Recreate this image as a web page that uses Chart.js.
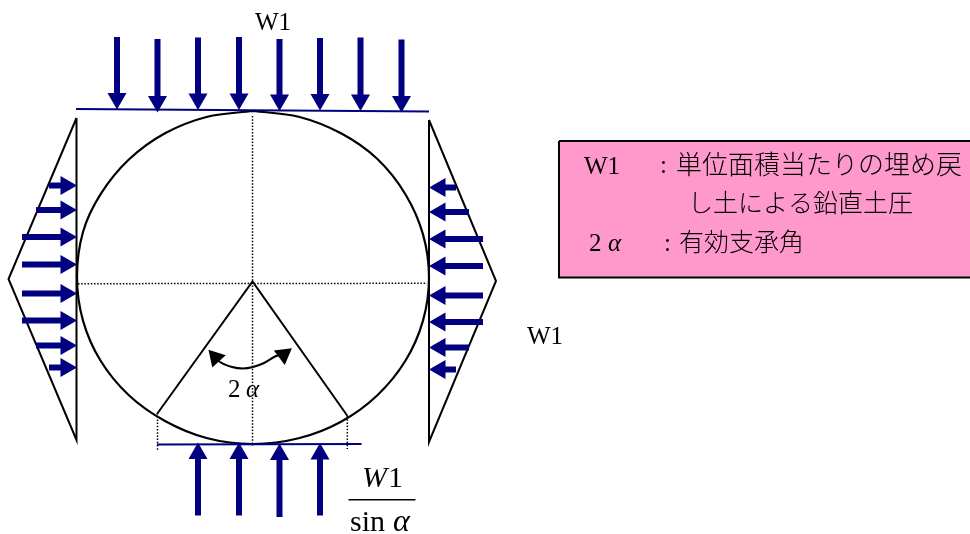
<!DOCTYPE html>
<html lang="ja">
<head>
    <meta charset="UTF-8">
    <title>W1</title>
    <script src="https://cdn.jsdelivr.net/npm/chart.js"></script>
    <style>
        html, body { margin: 0; padding: 0; background: #fff; }
        canvas { display: block; }
    </style>
</head>
<body>
    <canvas id="chart" width="970" height="534"></canvas>
    <script>
        // load arrows (x or y of each arrow, tail, tip)
        const downX = [117, 157.5, 198, 239, 279.5, 320, 360.5, 401.5];
        const downTail = [37, 39, 37.5, 37, 39, 38, 37.5, 39.5];
        const downTip = [109.5, 112.5, 110, 110, 111, 110.5, 111, 112.5];

        const upX = [198, 239, 279.5, 320];
        const upTail = [515.5, 515.5, 517, 515.5];
        const upTip = [442.5, 442.5, 443.5, 443];

        const rightY = [185.5, 210, 237, 264.5, 293.5, 320.5, 345.5, 367.5];
        const rightTail = [49, 36, 22, 22, 22, 22, 36, 49];
        const rightTip = [77, 77, 77, 77, 77, 77, 77, 77];

        const leftY = [187.5, 212, 239, 266, 295.5, 322, 347.5, 369.5];
        const leftTail = [456, 469, 483, 483, 483, 483, 469, 456];
        const leftTip = [429, 429, 429, 429, 429, 429, 429, 429];

        // outline of the pipe, read round from the top
        const pipeX = [253, 298.6, 341, 377.4, 405.4, 423, 429, 423, 405.4, 377.4, 341, 298.6, 253, 207.4, 165, 128.6, 100.6, 83, 77, 83, 100.6, 128.6, 165, 207.4, 253];
        const pipeY = [111, 116.7, 133.3, 159, 194.2, 234.4, 277.5, 320.6, 360.8, 395.2, 421.7, 438.3, 444, 438.3, 421, 395, 360.8, 320.6, 277, 232, 194.2, 159.8, 133.3, 116.7, 111];

        const triLeftX = [76.5, 8.5, 76.5, 76.5];
        const triLeftY = [118, 279, 440, 118];
        const triRightX = [429, 496, 429, 429];
        const triRightY = [120, 281, 442, 120];

        const fanX = [157, 252.5, 347.5];
        const fanY = [414, 281.5, 416];

        const swingX = [211, 220, 232, 243, 253, 264, 275, 286];
        const swingY = [353, 362, 367, 368.5, 367, 363, 356.5, 352];
        const swingHeadX = [215.5, 283.5];
        const swingHeadY = [357.5, 354.5];
        const swingHeadAngle = [-42, 53];

        const boxX = [559, 980, 980, 559, 559];
        const boxY = [141, 141, 277.5, 277.5, 141];

        const labelText = ['W1', 'W1', 'W1', ':', '単位面積当たりの埋め戻', 'し土による鉛直土圧', '2', 'α', ':', '有効支承角', '2', 'α', 'W', '1', 'sin', 'α'];
        const labelX = [255, 527, 584, 660, 676, 688, 589, 608, 664, 679, 228, 246, 362, 388, 350, 393];
        const labelY = [30, 344, 174, 173, 174, 212, 251, 251, 251, 251, 397, 397, 487, 487, 531, 531];
        const labelFont = ['serif', 'serif', 'serif', 'serif', 'cjk', 'cjkSmall', 'serif', 'italic', 'serif', 'cjkSmall', 'serif', 'italic', 'bigItalic', 'big', 'big', 'alpha'];

        const fonts = {
            serif: '25px "Liberation Serif"',
            italic: 'italic 25px "Liberation Serif"',
            big: '30px "Liberation Serif"',
            bigItalic: 'italic 30px "Liberation Serif"',
            alpha: 'italic 32px "Liberation Serif"',
            cjk: '300 26px "Noto Sans CJK JP"',
            cjkSmall: '300 25px "Noto Sans CJK JP"'
        };

        const NAVY = '#000080';
        const HEAD_R = 11;

        function zip(xs, ys) {
            return xs.map((x, i) => ({ x: x, y: ys[i] }));
        }

        function line(points, color, width, extra) {
            return Object.assign({
                type: 'scatter',
                data: points,
                showLine: true,
                borderColor: color,
                borderWidth: width,
                backgroundColor: 'transparent',
                pointRadius: 0,
                fill: false
            }, extra || {});
        }

        function heads(points, rotation, radius, color) {
            return {
                type: 'scatter',
                data: points,
                pointStyle: 'triangle',
                pointRadius: radius,
                pointRotation: rotation,
                pointBackgroundColor: color,
                pointBorderWidth: 0,
                showLine: false
            };
        }

        const datasets = [];

        // arrows: shaft stops under the head, the head sits back from the tip by its radius
        downX.forEach((x, i) => datasets.push(line([{ x: x, y: downTail[i] }, { x: x, y: downTip[i] - HEAD_R }], NAVY, 6)));
        upX.forEach((x, i) => datasets.push(line([{ x: x, y: upTail[i] }, { x: x, y: upTip[i] + HEAD_R }], NAVY, 6)));
        rightY.forEach((y, i) => datasets.push(line([{ x: rightTail[i], y: y }, { x: rightTip[i] - HEAD_R, y: y }], NAVY, 6)));
        leftY.forEach((y, i) => datasets.push(line([{ x: leftTail[i], y: y }, { x: leftTip[i] + HEAD_R, y: y }], NAVY, 6)));

        datasets.push(heads(downX.map((x, i) => ({ x: x, y: downTip[i] - HEAD_R })), 180, HEAD_R, NAVY));
        datasets.push(heads(upX.map((x, i) => ({ x: x, y: upTip[i] + HEAD_R })), 0, HEAD_R, NAVY));
        datasets.push(heads(rightY.map((y, i) => ({ x: rightTip[i] - HEAD_R, y: y })), 90, HEAD_R, NAVY));
        datasets.push(heads(leftY.map((y, i) => ({ x: leftTip[i] + HEAD_R, y: y })), -90, HEAD_R, NAVY));

        // the swing arrow for 2 alpha
        swingHeadX.forEach((x, i) => datasets.push(heads([{ x: x, y: swingHeadY[i] }], swingHeadAngle[i], 10.5, '#000')));
        datasets.push(line(zip(swingX, swingY), '#000', 2, { tension: 0.35 }));

        // load lines
        datasets.push(line(zip([76, 429], [109, 111.5]), NAVY, 2));
        datasets.push(line(zip([157, 361.5], [444.5, 444]), NAVY, 2));

        // pipe, triangles and support angle
        datasets.push(line(zip(pipeX, pipeY), '#000', 2.2, { tension: 0.34 }));
        datasets.push(line(zip(triLeftX, triLeftY), '#000', 2));
        datasets.push(line(zip(triRightX, triRightY), '#000', 2));
        datasets.push(line(zip(fanX, fanY), '#000', 2));

        // centre lines
        const dots = { borderDash: [1.5, 1.7] };
        datasets.push(line(zip([252.5, 252.5], [116, 446]), '#000', 1.5, dots));
        datasets.push(line(zip([78, 427], [283.7, 283.3]), '#000', 1.5, dots));
        datasets.push(line(zip([157.5, 157.5], [413, 451]), '#000', 1.5, dots));
        datasets.push(line(zip([347.3, 347.3], [416, 449]), '#000', 1.5, dots));

        // fraction bar
        datasets.push(line(zip([348.5, 415.5], [499.7, 499.7]), '#000', 1.5));

        // pink note box
        datasets.push(line(zip(boxX, boxY), '#000', 2, { fill: 'shape', backgroundColor: '#FF99CC' }));

        const textLabels = {
            id: 'textLabels',
            afterDatasetsDraw(chart) {
                const ctx = chart.ctx;
                ctx.save();
                ctx.fillStyle = '#000';
                ctx.textAlign = 'left';
                ctx.textBaseline = 'alphabetic';
                labelText.forEach((t, i) => {
                    ctx.font = fonts[labelFont[i]];
                    ctx.fillText(t, chart.scales.x.getPixelForValue(labelX[i]), chart.scales.y.getPixelForValue(labelY[i]));
                });
                ctx.restore();
            }
        };

        new Chart(document.getElementById('chart'), {
            type: 'scatter',
            data: { datasets: datasets },
            options: {
                responsive: false,
                animation: false,
                layout: { padding: 0, autoPadding: false },
                plugins: { legend: { display: false }, tooltip: { enabled: false } },
                scales: {
                    x: { type: 'linear', min: 0, max: 970, display: false },
                    y: { type: 'linear', min: 0, max: 534, reverse: true, display: false }
                }
            },
            plugins: [textLabels]
        });
    </script>
</body>
</html>
